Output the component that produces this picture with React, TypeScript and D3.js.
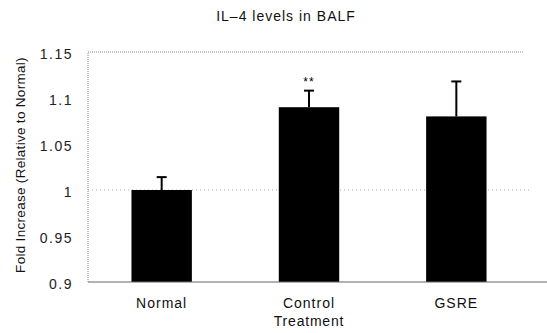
import { useEffect, useRef } from "react";
import * as d3 from "d3";

const categories = ["Normal", "Control", "GSRE"];
const values = [1.0, 1.09, 1.08];
const errors = [0.014, 0.018, 0.038];
const marks = ["", "**", ""];
const yTicks = [0.9, 0.95, 1, 1.05, 1.1, 1.15];

const W = 547, H = 333;
const margin = { top: 52, right: 17, bottom: 51, left: 88 };
const font = "Liberation Sans, Arial, sans-serif";

export default function App() {
    const ref = useRef<SVGSVGElement>(null);

    useEffect(() => {
        const svg = d3.select(ref.current);
        svg.selectAll("*").remove();

        const x = d3.scaleBand().domain(categories)
            .range([margin.left, W - margin.right]).paddingInner(0.59).paddingOuter(0.295);
        const y = d3.scaleLinear().domain([0.9, 1.15]).range([H - margin.bottom, margin.top]);

        // plot frame, dotted
        svg.append("path")
            .attr("d", `M${margin.left},${y(0.9)}V${y(1.15)}H${W - margin.right - 6}`)
            .attr("fill", "none").attr("stroke", "#888").attr("stroke-width", 1)
            .attr("stroke-dasharray", "1,1");
        // faint gridline at 1
        svg.append("line")
            .attr("x1", margin.left).attr("x2", W - margin.right)
            .attr("y1", y(1)).attr("y2", y(1))
            .attr("stroke", "#aaa").attr("stroke-dasharray", "1,3");

        // y labels
        svg.append("g").selectAll("text").data(yTicks).join("text")
            .attr("x", 73).attr("y", d => y(d) + 2).attr("dy", "0.35em")
            .attr("text-anchor", "end").attr("font-family", font).attr("font-size", 14)
            .attr("letter-spacing", 1.5).attr("fill", "#222")
            .text(d => String(d));

        // bars
        svg.append("g").selectAll("rect").data(categories).join("rect")
            .attr("x", d => x(d)!).attr("width", x.bandwidth())
            .attr("y", (d, i) => y(values[i])).attr("height", (d, i) => y(0.9) - y(values[i]))
            .attr("fill", "#000");

        // error bars
        const eb = svg.append("g").attr("stroke", "#000").attr("stroke-width", 2);
        categories.forEach((c, i) => {
            const cx = x(c)! + x.bandwidth() / 2;
            eb.append("line").attr("x1", cx).attr("x2", cx)
                .attr("y1", y(values[i])).attr("y2", y(values[i] + errors[i]));
            eb.append("line").attr("x1", cx - 5).attr("x2", cx + 5)
                .attr("y1", y(values[i] + errors[i])).attr("y2", y(values[i] + errors[i]));
            if (marks[i]) {
                svg.append("text").attr("x", cx).attr("y", y(values[i] + errors[i]) - 5)
                    .attr("text-anchor", "middle").attr("font-family", font).attr("font-size", 12)
                    .attr("letter-spacing", 1).text(marks[i]);
            }
        });

        // x axis line
        svg.append("line")
            .attr("x1", margin.left).attr("x2", W).attr("y1", y(0.9)).attr("y2", y(0.9))
            .attr("stroke", "#666").attr("stroke-width", 1);

        // x labels
        svg.append("g").selectAll("text").data(categories).join("text")
            .attr("x", d => x(d)! + x.bandwidth() / 2).attr("y", 308)
            .attr("text-anchor", "middle").attr("font-family", font).attr("font-size", 14)
            .attr("letter-spacing", 1).attr("fill", "#111").text(d => d);

        svg.append("text").attr("x", 309).attr("y", 326)
            .attr("text-anchor", "middle").attr("font-family", font).attr("font-size", 14)
            .attr("letter-spacing", 0.8).attr("fill", "#111").text("Treatment");

        svg.append("text").attr("transform", `translate(25,165) rotate(-90)`)
            .attr("text-anchor", "middle").attr("font-family", font).attr("font-size", 13.5)
            .attr("letter-spacing", 0.3).attr("fill", "#111").text("Fold Increase (Relative to Normal)");

        svg.append("text").attr("x", 286).attr("y", 21)
            .attr("text-anchor", "middle").attr("font-family", font).attr("font-size", 14)
            .attr("letter-spacing", 1).attr("fill", "#111").text("IL\u20134 levels in BALF");
    }, []);

    return (
        <svg ref={ref} width={W} height={H}
            style={{ position: "absolute", left: 0, top: 0, background: "#fff" }} />
    );
}
